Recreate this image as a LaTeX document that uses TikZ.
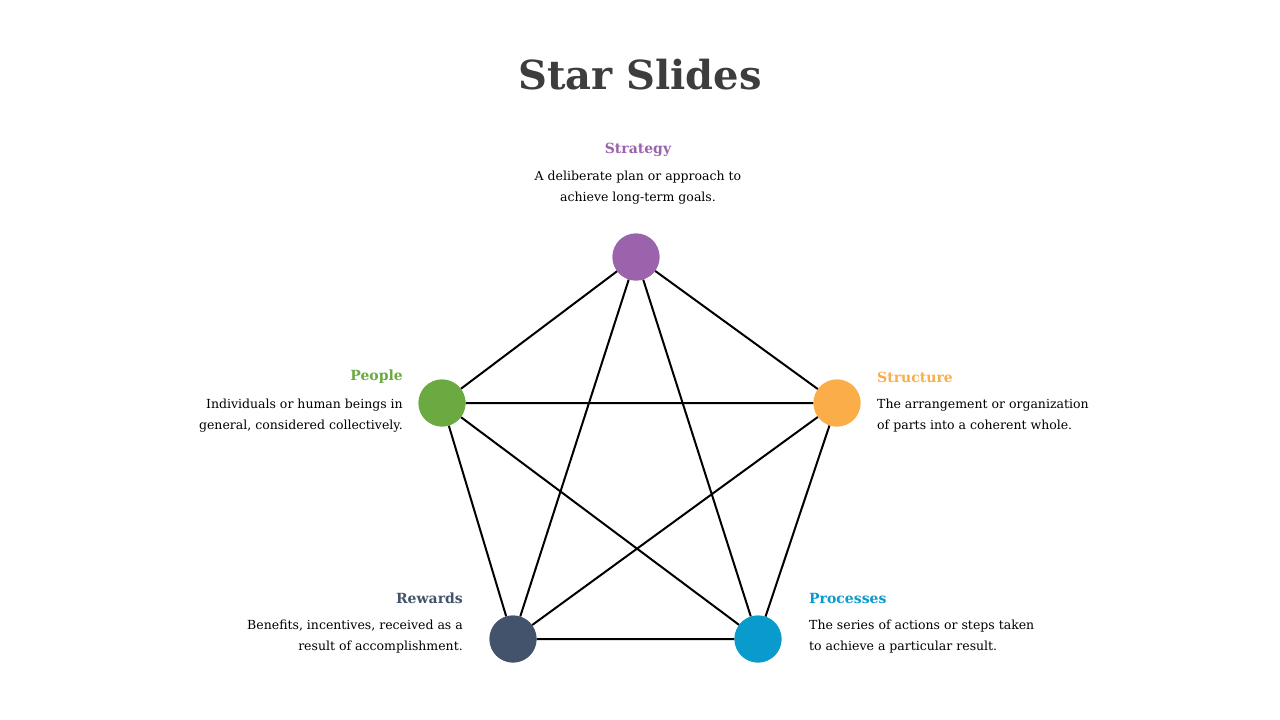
\documentclass[tikz,border=0pt]{standalone}
\usepackage{fontspec}
\setmainfont{DejaVu Serif}
\definecolor{cpur}{HTML}{9B63AC}
\definecolor{corg}{HTML}{FBAD4A}
\definecolor{cblu}{HTML}{0A9BCD}
\definecolor{cnav}{HTML}{42536B}
\definecolor{cgrn}{HTML}{6AAA40}
\definecolor{ctit}{HTML}{3D3D3D}
\tikzset{dot/.style={circle,fill=#1,minimum size=47pt,inner sep=0},
 hd/.style={font=\fontsize{14}{16}\selectfont\bfseries,text=#1,inner sep=0},
 ds/.style={font=\fontsize{12.5}{21}\selectfont,inner sep=0,align=#1},
 ln/.style={line width=2pt,black}}
\begin{document}
\begin{tikzpicture}[x=1pt,y=-1pt]
\useasboundingbox (0,0) rectangle (1280,720);
\node[font=\fontsize{40}{44}\selectfont\bfseries,text=ctit] (t) at (640,75) {Star Slides};
\node[dot=cpur] (s) at (636,257) {};
\node[dot=corg] (st) at (837,403) {};
\node[dot=cblu] (p) at (758,639) {};
\node[dot=cnav] (r) at (513,639) {};
\node[dot=cgrn] (pe) at (442,403) {};
\begin{scope}[on background layer/.style={}]
\end{scope}
\draw[ln] (s)--(st) (st)--(p) (p)--(r) (r)--(pe) (pe)--(s)
 (s)--(p) (s)--(r) (pe)--(st) (pe)--(p) (st)--(r);
\node[dot=cpur] at (s) {};
\node[dot=corg] at (st) {};
\node[dot=cblu] at (p) {};
\node[dot=cnav] at (r) {};
\node[dot=cgrn] at (pe) {};
\node[hd=cpur] (h1) at (638,150) {Strategy};
\node[ds=center] (d1) at (638,188) {A deliberate plan or approach to\\achieve long-term goals.};
\node[hd=cgrn,anchor=east] (h2) at (403,377) {People};
\node[ds=right,anchor=east] (d2) at (403,416) {Individuals or human beings in\\general, considered collectively.};
\node[hd=corg,anchor=west] (h3) at (877,377) {Structure};
\node[ds=left,anchor=west] (d3) at (877,416) {The arrangement or organization\\of parts into a coherent whole.};
\node[hd=cblu,anchor=west] (h4) at (809,598) {Processes};
\node[ds=left,anchor=west] (d4) at (809,637) {The series of actions or steps taken\\to achieve a particular result.};
\node[hd=cnav,anchor=east] (h5) at (463,598) {Rewards};
\node[ds=right,anchor=east] (d5) at (463,637) {Benefits, incentives, received as a\\result of accomplishment.};
\end{tikzpicture}
\end{document}
